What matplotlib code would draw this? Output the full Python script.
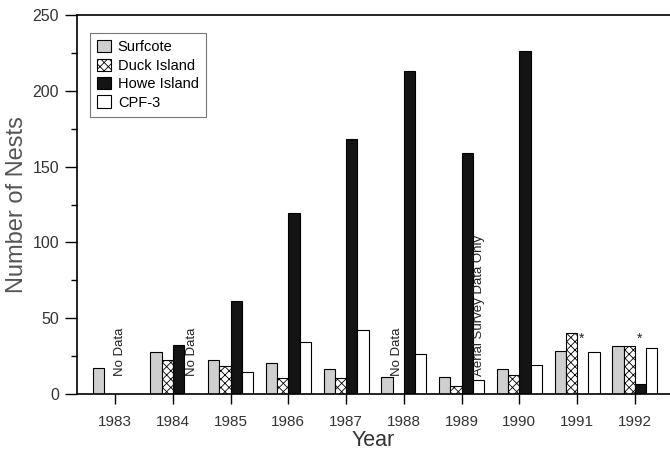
import numpy as np
import matplotlib
matplotlib.use('Agg')
import matplotlib.pyplot as plt
from matplotlib.ticker import MultipleLocator

plt.rcParams['font.family'] = ['Liberation Sans', 'DejaVu Sans']
plt.rcParams['hatch.linewidth'] = 0.6

years = [1983, 1984, 1985, 1986, 1987, 1988, 1989, 1990, 1991, 1992]
# nan = no bar drawn for that year
surfcote = [17.5, 27.5, 22.5, 20.5, 16.5, 11.5, 11.5, 16.5, 28.5, 31.5]
duck_island = [np.nan, 22.5, 18.5, 10.5, 10.5, np.nan, 5.5, 12.5, 40.5, 31.5]
howe_island = [np.nan, 32.5, 61.5, 119.5, 168, 213, 159, 226, np.nan, 6.5]
cpf3 = [np.nan, np.nan, 14.5, 34.5, 42.5, 26.5, 9.5, 19.5, 27.5, 30.5]

series = ['Surfcote', 'Duck Island', 'Howe Island', 'CPF-3']
# (x, y, text)
notes = [(1983.09, 12, 'No Data'), (1984.33, 12, 'No Data'),
         (1987.885, 12, 'No Data'), (1989.30, 12, 'Aerial Survey Data Only')]
stars = [(1991.08, 32), (1992.08, 32)]

fig = plt.figure(figsize=(6.7, 4.53), dpi=100)
ax = fig.add_axes([0.115, 0.13, 0.885, 0.837])

x = np.array(years, dtype=float)
w = 0.195
styles = [dict(color='#cfcfcf'),
          dict(color='white', hatch='xxxx'),
          dict(color='#141414'),
          dict(color='white')]
data = [surfcote, duck_island, howe_island, cpf3]
for i in range(4):
    ax.bar(x + (i - 1.5) * w, data[i], width=w, edgecolor='black', linewidth=0.8,
           label=series[i], **styles[i])

for xx, yy, t in notes:
    ax.text(xx, yy, t, rotation=90, ha='center', va='bottom', fontsize=9.5, color='#222222')
for xx, yy in stars:
    ax.text(xx, yy, '*', ha='center', va='bottom', fontsize=10, color='#222222')

ax.set_xlim(1982.34, 1992.61)
ax.set_ylim(0, 250)
ax.set_xticks(years)
ax.yaxis.set_major_locator(MultipleLocator(50))
ax.yaxis.set_minor_locator(MultipleLocator(25))
ax.tick_params(axis='y', which='major', length=9, width=1, labelsize=11.5, labelcolor='#333333', pad=4)
ax.tick_params(axis='y', which='minor', length=4, width=1)
ax.tick_params(axis='x', length=7, width=1, labelsize=11, labelcolor='#333333', pad=8)

ax.spines['right'].set_visible(False)
for s in ['left', 'bottom', 'top']:
    ax.spines[s].set_linewidth(1.2)

ax.set_xlabel('Year', fontsize=15.5, color='#333333', labelpad=1)
ax.set_ylabel('Number of Nests', fontsize=17, color='#555555', labelpad=3)

leg = ax.legend(loc='upper left', bbox_to_anchor=(0.022, 0.953), borderaxespad=0,
                fontsize=10.5, frameon=True, fancybox=False, edgecolor='#555555',
                handlelength=0.9, handleheight=0.9, handletextpad=0.5,
                labelspacing=0.3, borderpad=0.5)
leg.get_frame().set_linewidth(0.8)

fig.savefig('out.png', dpi=100)
